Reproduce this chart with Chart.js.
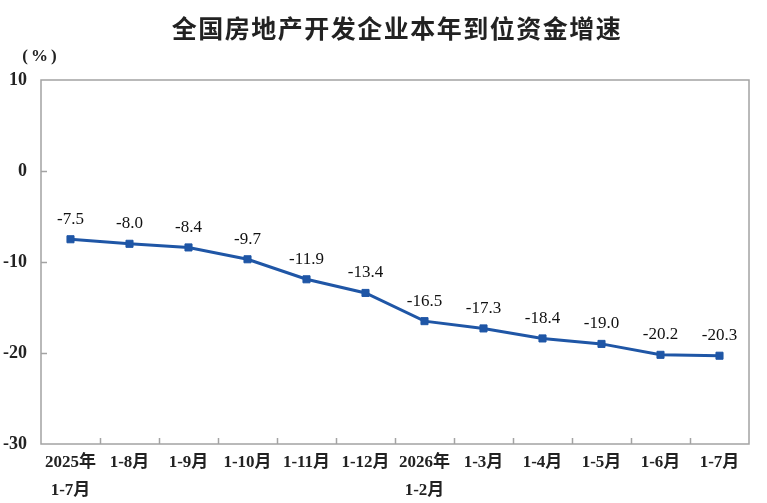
<!DOCTYPE html>
<html>
<head>
<meta charset="utf-8">
<script src="https://cdn.jsdelivr.net/npm/chart.js@4.4.1/dist/chart.umd.min.js"></script>
<style>
  html, body { margin: 0; padding: 0; background: #fff; }
  #wrap { width: 767px; height: 503px; position: relative; }
  canvas { display: block; }
</style>
</head>
<body>
<div id="wrap"><canvas id="c" width="767" height="503"></canvas></div>
<script>
const chartTitle = '全国房地产开发企业本年到位资金增速';
const unitLabel = '(%)';
const categories = [
  ['2025年', '1-7月'], '1-8月', '1-9月', '1-10月', '1-11月', '1-12月',
  ['2026年', '1-2月'], '1-3月', '1-4月', '1-5月', '1-6月', '1-7月'
];
const growthValues = [-7.5, -8.0, -8.4, -9.7, -11.9, -13.4, -16.5, -17.3, -18.4, -19.0, -20.2, -20.3];
const yTicks = [10, 0, -10, -20, -30];

const LINE_COLOR = '#1f56a6';
const AXIS_COLOR = '#a3a3a3';
const SERIF = '"Liberation Serif", "Times New Roman", "Noto Sans CJK SC", serif';

const decor = {
  id: 'decor',
  afterDraw(chart) {
    const ctx = chart.ctx;
    const a = chart.chartArea;
    const x = chart.scales.x, y = chart.scales.y;
    ctx.save();
    ctx.strokeStyle = AXIS_COLOR;
    ctx.lineWidth = 1.5;
    ctx.strokeRect(a.left, a.top, a.right - a.left, a.bottom - a.top);
    ctx.beginPath();
    yTicks.forEach(v => {
      if (v === y.max || v === y.min) return;
      const py = Math.round(y.getPixelForValue(v)) + 0.5;
      ctx.moveTo(a.left, py); ctx.lineTo(a.left + 6, py);
    });
    for (let i = 0; i < categories.length - 1; i++) {
      const px = Math.round((x.getPixelForTick(i) + x.getPixelForTick(i + 1)) / 2) + 0.5;
      ctx.moveTo(px, a.bottom); ctx.lineTo(px, a.bottom - 6);
    }
    ctx.stroke();

    ctx.fillStyle = '#222';
    ctx.font = 'bold 25px "Noto Sans CJK SC", sans-serif';
    ctx.textAlign = 'center';
    ctx.textBaseline = 'middle';
    try { ctx.letterSpacing = '1.5px'; } catch (e) {}
    ctx.fillText(chartTitle, 397, 28);

    ctx.font = 'bold 17px ' + SERIF;
    try { ctx.letterSpacing = '3px'; } catch (e) {}
    ctx.fillText(unitLabel, 41, 57);
    try { ctx.letterSpacing = '0px'; } catch (e) {}

    const meta = chart.getDatasetMeta(0);
    ctx.font = '17px ' + SERIF;
    ctx.fillStyle = '#111';
    meta.data.forEach((pt, i) => {
      ctx.fillText(growthValues[i].toFixed(1), pt.x, pt.y - 20);
    });
    ctx.restore();
  }
};

new Chart(document.getElementById('c'), {
  type: 'line',
  data: {
    labels: categories,
    datasets: [{
      data: growthValues,
      borderColor: LINE_COLOR,
      backgroundColor: LINE_COLOR,
      borderWidth: 3,
      pointStyle: 'rect',
      pointRadius: 5,
      pointBorderWidth: 1,
      tension: 0,
      clip: false
    }]
  },
  options: {
    responsive: false,
    animation: false,
    devicePixelRatio: 1,
    layout: { padding: { top: 80, right: 18, left: 0, bottom: 0 } },
    plugins: { legend: { display: false }, title: { display: false }, tooltip: { enabled: false } },
    scales: {
      x: {
        offset: true,
        border: { display: false },
        grid: { display: false, drawTicks: false },
        afterFit(s) { s.height = 59; },
        ticks: {
          padding: 5,
          autoSkip: false,
          maxRotation: 0,
          color: '#222',
          font: { family: SERIF, size: 17, weight: 'bold', lineHeight: 1.65 }
        }
      },
      y: {
        min: -30, max: 10,
        border: { display: false },
        grid: { display: false, drawTicks: false },
        afterFit(s) { s.width = 41; },
        afterBuildTicks(s) { s.ticks = yTicks.map(v => ({ value: v })); },
        ticks: {
          padding: 14,
          color: '#222',
          font: { family: SERIF, size: 18, weight: 'bold' }
        }
      }
    }
  },
  plugins: [decor]
});
</script>
</body>
</html>
